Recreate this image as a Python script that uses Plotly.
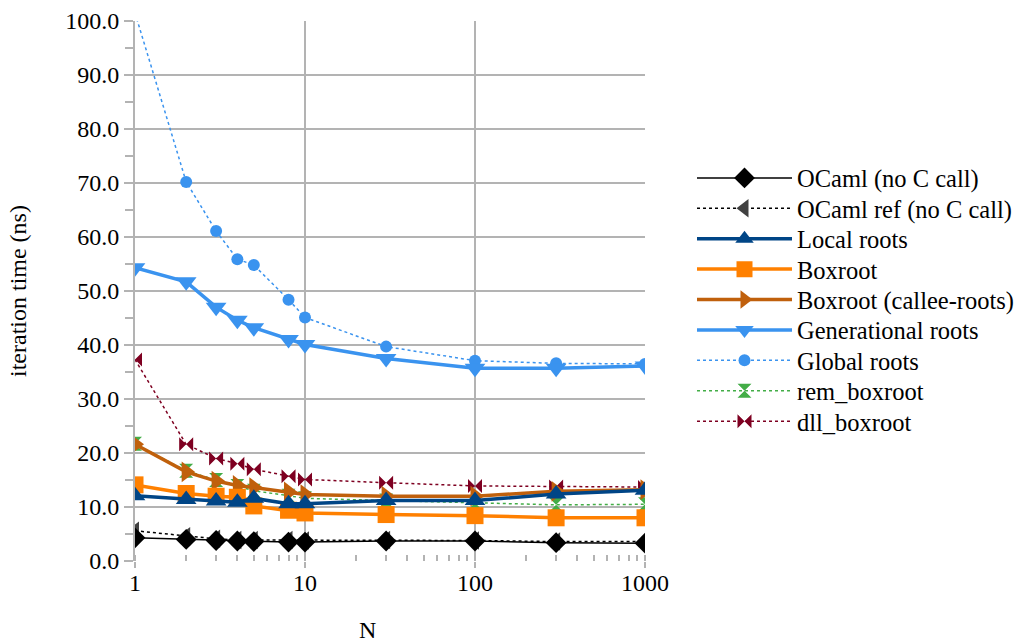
import plotly.graph_objects as go

N = [1, 2, 3, 4, 5, 8, 10, 30, 100, 300, 1000]

ocaml = [4.3, 4.0, 3.8, 3.7, 3.6, 3.5, 3.5, 3.7, 3.7, 3.4, 3.3]
ocaml_ref = [5.6, 4.6, 4.1, 3.9, 3.9, 3.9, 3.8, 3.9, 3.8, 3.6, 3.6]
local_roots = [12.1, 11.4, 11.1, 10.9, 11.6, 10.6, 10.6, 11.2, 11.2, 12.4, 13.1]
boxroot = [14.1, 12.5, 12.0, 11.8, 10.2, 9.4, 8.9, 8.6, 8.4, 8.0, 8.0]
boxroot_callee = [21.6, 16.5, 14.8, 14.0, 13.6, 12.8, 12.3, 12.0, 12.0, 12.9, 13.2]
generational = [54.3, 51.7, 47.0, 44.6, 43.2, 41.0, 40.1, 37.5, 35.7, 35.7, 36.1]
global_roots = [101.5, 70.2, 61.1, 55.9, 54.8, 48.4, 45.1, 39.7, 37.1, 36.6, 36.5]
rem_boxroot = [21.7, 16.7, 15.0, 13.9, 13.0, 12.1, 11.6, 11.2, 10.8, 10.4, 10.5]
dll_boxroot = [37.3, 21.6, 19.0, 18.0, 17.0, 15.7, 15.1, 14.5, 13.9, 13.8, 13.7]

x_tickvals = [1, 10, 100, 1000]
x_ticktext = ["1", "10", "100", "1000"]
y_tickvals = [0, 10, 20, 30, 40, 50, 60, 70, 80, 90, 100]

series = [
    ("OCaml (no C call)", ocaml, "#000000", "#000000", "solid", 1.5, "diamond", 16),
    ("OCaml ref (no C call)", ocaml_ref, "#000000", "#404040", "dot", 1.5, "triangle-left", 16),
    ("Local roots", local_roots, "#004586", "#004586", "solid", 3.5, "triangle-up", 18),
    ("Boxroot", boxroot, "#ff8000", "#ff8000", "solid", 3.5, "square", 17),
    ("Boxroot (callee-roots)", boxroot_callee, "#c0600c", "#c0600c", "solid", 3.5, "triangle-right", 18),
    ("Generational roots", generational, "#3a93ef", "#3a93ef", "solid", 3.5, "triangle-down", 18),
    ("Global roots", global_roots, "#3a93ef", "#3a93ef", "dot", 1.5, "circle", 12),
    ("rem_boxroot", rem_boxroot, "#43ad47", "#43ad47", "dot", 1.5, "hourglass", 14),
    ("dll_boxroot", dll_boxroot, "#7e0021", "#7e0021", "dot", 1.5, "bowtie", 14),
]

font_family = "Liberation Serif"
grid = "#b3b3b3"

# plot area in pixels
L, R, T, B = 135, 377, 21, 83
W, H = 1022, 644
PW, PH = W - L - R, H - T - B

fig = go.Figure()
legends = {}
# draw in reverse so the first series sits on top, as in the reference
for i in reversed(range(len(series))):
    name, ys, lc, mc, dash, lw, sym, ms = series[i]
    key = "legend" if i == 0 else f"legend{i + 1}"
    fig.add_trace(go.Scatter(
        x=N, y=ys, name=name, mode="lines+markers",
        line=dict(color=lc, width=lw, dash=dash),
        marker=dict(symbol=sym, size=ms, color=mc, line=dict(width=0)),
        legend=key,
    ))
    cy = 178 + i * 30.4
    legends[key] = dict(
        x=(692 - L) / PW, y=(T + PH - cy) / PH,
        xanchor="left", yanchor="middle",
        bgcolor="rgba(0,0,0,0)", borderwidth=0,
        font=dict(family=font_family, size=24.5), itemwidth=95,
    )

fig.update_layout(
    width=W, height=H,
    margin=dict(l=L, r=R, t=T, b=B, autoexpand=False),
    plot_bgcolor="white", paper_bgcolor="white",
    font=dict(family=font_family, size=24, color="black"),
    showlegend=True,
    xaxis=dict(
        type="log", range=[0, 3], automargin=False,
        tickvals=x_tickvals, ticktext=x_ticktext,
        showgrid=True, gridcolor=grid, gridwidth=2,
        ticks="outside", ticklen=6, tickcolor=grid, tickwidth=2,
        ticklabelstandoff=-6,
        showline=False, zeroline=False,
        minor=dict(ticks="inside", ticklen=6, tickcolor=grid, tickwidth=2,
                   dtick="D1", showgrid=False),
        tickfont=dict(family=font_family, size=24),
    ),
    yaxis=dict(
        range=[0, 100], tickvals=y_tickvals, tickformat=".1f", automargin=False,
        showgrid=True, gridcolor=grid, gridwidth=2,
        ticks="outside", ticklen=9, tickcolor=grid, tickwidth=2,
        showline=True, linecolor=grid, linewidth=2,
        zeroline=False,
        minor=dict(ticks="outside", ticklen=8, tickcolor=grid, tickwidth=2,
                   dtick=5, showgrid=False),
        tickfont=dict(family=font_family, size=24),
    ),
    annotations=[
        dict(text="iteration time (ns)", xref="paper", yref="paper",
             x=(18 - L) / PW, y=0.5, xanchor="center", yanchor="middle",
             textangle=-90, showarrow=False, font=dict(family=font_family, size=24)),
        dict(text="N", xref="paper", yref="paper",
             x=(367 - L) / PW, y=(T + PH - 630) / PH, xanchor="center", yanchor="middle",
             showarrow=False, font=dict(family=font_family, size=24)),
    ],
    **legends,
)

fig.write_html(
    "out.html",
    config={"displayModeBar": False},
    post_script="document.body.style.margin='0';document.body.style.overflow='hidden';",
)
